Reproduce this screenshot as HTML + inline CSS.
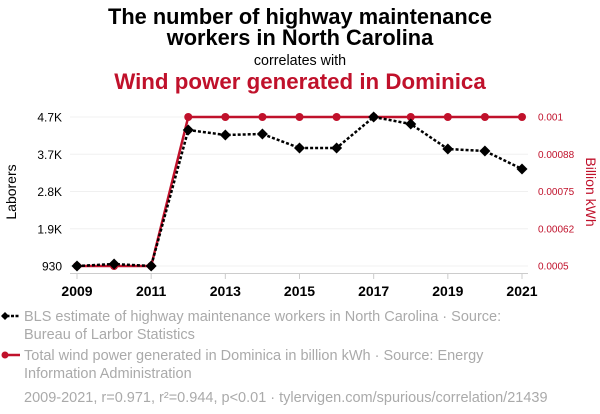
<!DOCTYPE html>
<html><head><meta charset="utf-8"><style>
body{margin:0;background:#fff;width:600px;height:414px;overflow:hidden;font-family:"Liberation Sans",sans-serif}
svg{display:block}
</style></head><body>
<svg id="chart" width="600" height="414" xmlns="http://www.w3.org/2000/svg">
<text x="300" y="24" text-anchor="middle" font-size="21.8" font-weight="bold" fill="#000">The number of highway maintenance</text>
<text x="300" y="45" text-anchor="middle" font-size="21.8" font-weight="bold" fill="#000">workers in North Carolina</text>
<text x="300" y="65" text-anchor="middle" font-size="14.3" fill="#000">correlates with</text>
<text x="300" y="89" text-anchor="middle" font-size="22.3" font-weight="bold" fill="#c0112b">Wind power generated in Dominica</text>
<g id="grid"></g>
<g id="axes"></g>
<g id="series"></g>
<text transform="translate(16,192) rotate(-90)" text-anchor="middle" font-size="14" fill="#000">Laborers</text>
<text transform="translate(586,192) rotate(90)" text-anchor="middle" font-size="14" fill="#c0112b">Billion kWh</text>
<g>
<line x1="2" y1="316" x2="20" y2="316" stroke="#000" stroke-width="2.5" stroke-dasharray="3,1.5"/>
<path d="M5,312 L9,316 5,320 1,316Z" fill="#000"/>
<text x="24" y="321" font-size="14.5" fill="#aaa">BLS estimate of highway maintenance workers in North Carolina · Source:</text>
<text x="24" y="339" font-size="14.5" fill="#aaa">Bureau of Larbor Statistics</text>
</g>
<g>
<line x1="4" y1="355" x2="20" y2="355" stroke="#c0112b" stroke-width="2.5"/>
<circle cx="5" cy="355" r="3.5" fill="#c0112b"/>
<text x="24" y="360" font-size="14.5" fill="#aaa">Total wind power generated in Dominica in billion kWh · Source: Energy</text>
<text x="24" y="378" font-size="14.5" fill="#aaa">Information Administration</text>
</g>
<text x="24" y="402" font-size="14.5" fill="#aaa">2009-2021, r=0.971, r²=0.944, p&lt;0.01 · tylervigen.com/spurious/correlation/21439</text>
</svg>
<script>
const years=[2009,2010,2011,2012,2013,2014,2015,2016,2017,2018,2019,2020,2021];
const laborers=[930,980,930,4371,4245,4270,3916,3916,4700,4523,3890,3840,3384];
const wind=[0.0005,0.0005,0.0005,0.001,0.001,0.001,0.001,0.001,0.001,0.001,0.001,0.001,0.001];
const leftTicks=[930,1872,2815,3757,4700];
const leftLabels=["930","1.9K","2.8K","3.7K","4.7K"];
const rightTicks=[0.0005,0.000625,0.00075,0.000875,0.001];
const rightLabels=["0.0005","0.00062","0.00075","0.00088","0.001"];
const xTicks=[2009,2011,2013,2015,2017,2019,2021];
const NS="http://www.w3.org/2000/svg";
const x=v=>77+(v-2009)*(522-77)/12;
const yL=v=>266-(v-930)*(266-117)/(4700-930);
const yR=v=>266-(v-0.0005)*(266-117)/0.0005;
function mk(p,t,a){const e=document.createElementNS(NS,t);for(const k in a)e.setAttribute(k,a[k]);p.appendChild(e);return e;}
const grid=document.getElementById('grid'),axes=document.getElementById('axes'),ser=document.getElementById('series');
leftTicks.forEach((v,i)=>{
 const g=mk(grid,'line',{x1:70,x2:528,y1:yL(v),y2:yL(v),stroke:'#f0f0f0','stroke-width':1});
 
 
 const t=mk(axes,'text',{x:62,y:yL(v)+4.5,'text-anchor':'end','font-size':12,fill:'#000'});
 t.textContent=leftLabels[i];
 
 
});
rightTicks.forEach((v,i)=>{
 const t=mk(axes,'text',{x:538,y:yR(v)+3.5,'font-size':10,fill:'#c0112b'});
 t.textContent=rightLabels[i];
 
 
});
const ax=mk(axes,'line',{x1:70,x2:528,y1:273.5,y2:273.5,stroke:'#ccc','stroke-width':1});


xTicks.forEach(v=>{
 mk(axes,'line',{x1:x(v),x2:x(v),y1:273,y2:279,stroke:'#ccc'});
 const t=mk(axes,'text',{x:x(v),y:296,'text-anchor':'middle','font-size':14,'font-weight':'bold',fill:'#000'});
 t.textContent=v;
 
 
});
const rl=mk(ser,'polyline',{points:years.map((y,i)=>x(y)+','+yR(wind[i])).join(' '),fill:'none',stroke:'#c0112b','stroke-width':2.5});


years.forEach((y,i)=>{
 const c=mk(ser,'circle',{cx:x(y),cy:yR(wind[i]),r:4,fill:'#c0112b'});
 
 
});
const bl=mk(ser,'polyline',{points:years.map((y,i)=>x(y)+','+yL(laborers[i])).join(' '),fill:'none',stroke:'#000','stroke-width':2.5,'stroke-dasharray':'3,2'});


years.forEach((y,i)=>{
 const cx=x(y),cy=yL(laborers[i]);
 const d=mk(ser,'path',{d:`M${cx},${cy-5.5} L${cx+5.5},${cy} ${cx},${cy+5.5} ${cx-5.5},${cy}Z`,fill:'#000'});
 
 
});
</script>
</body></html>
